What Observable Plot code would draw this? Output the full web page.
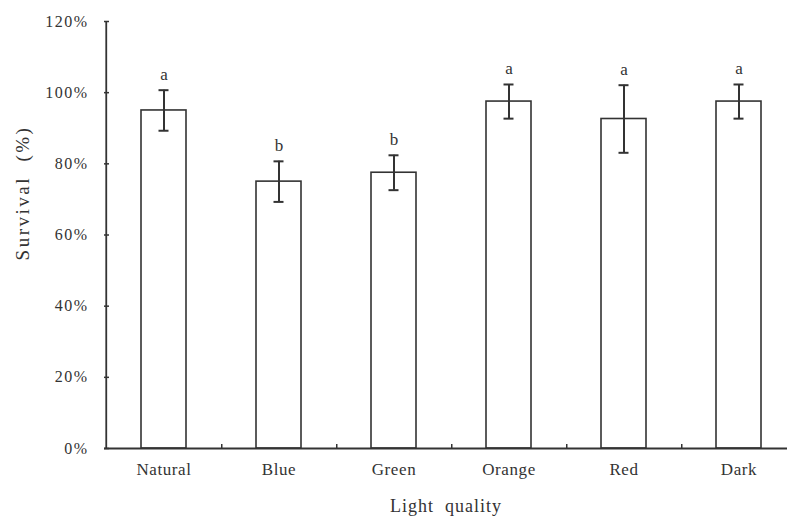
<!DOCTYPE html>
<html>
<head>
<meta charset="utf-8">
<script src="https://cdn.jsdelivr.net/npm/d3@7"></script>
<script src="https://cdn.jsdelivr.net/npm/@observablehq/plot@0.6"></script>
<style>
  html, body { margin: 0; padding: 0; background: #fff; }
  #chart svg { display: block; }
  #chart svg text { font-family: 'Liberation Serif', 'Times New Roman', serif; }
  #chart g[aria-label="y-axis tick label"] text { letter-spacing: 1.5px; }
  #chart g[aria-label="x-axis tick label"] text { letter-spacing: 0.6px; }
  #chart .ylab text { letter-spacing: 2.5px; }
  #chart .xlab text { letter-spacing: 1px; }
</style>
</head>
<body>
<div id="chart"></div>
<script>
const categories = ["Natural", "Blue", "Green", "Orange", "Red", "Dark"];
const survival   = [0.950, 0.750, 0.775, 0.975, 0.926, 0.975];
const stdError   = [0.057, 0.057, 0.049, 0.048, 0.095, 0.048];
const letters    = ["a", "b", "b", "a", "a", "a"];
const yTicks     = [0, 0.2, 0.4, 0.6, 0.8, 1.0, 1.2];

const data = categories.map((c, i) => ({
  category: c,
  value: survival[i],
  lo: survival[i] - stdError[i],
  hi: survival[i] + stdError[i],
  letter: letters[i]
}));

const W = 787, H = 522;
const mL = 104, mR = 0, mT = 21, mB = 74;
const xRange = [104, 797];
const step = (xRange[1] - xRange[0]) / categories.length;
const ink = "#333";
const font = "'Liberation Serif', 'Times New Roman', serif";

const plot = Plot.plot({
  width: W,
  height: H,
  marginLeft: mL,
  marginRight: mR,
  marginTop: mT,
  marginBottom: mB,
  style: { fontFamily: font, color: ink, background: "#fff" },
  x: { domain: categories, range: xRange, paddingInner: 0.61, paddingOuter: 0.305 },
  y: { domain: [0, 1.2] },
  marks: [
    // bars
    Plot.barY(data, { x: "category", y: "value", fill: "#fff", stroke: ink, strokeWidth: 1.6 }),
    // error bars
    Plot.ruleX(data, { x: "category", y1: "lo", y2: "hi", stroke: ink, strokeWidth: 2 }),
    Plot.tickY(data, { x: "category", y: "hi", stroke: ink, strokeWidth: 2, insetLeft: 17.5, insetRight: 17.5 }),
    Plot.tickY(data, { x: "category", y: "lo", stroke: ink, strokeWidth: 2, insetLeft: 17.5, insetRight: 17.5 }),
    // significance letters
    Plot.text(data, { x: "category", y: "hi", text: "letter", dy: -16, fontSize: 17, fill: ink, fontFamily: font }),
    // y axis line
    Plot.ruleX([0], { x: () => categories[0], dx: -(step * 0.305 + step * 0.39 / 2), y1: 0, y2: 1.2, stroke: ink, strokeWidth: 1.8 }),
    // x axis line
    Plot.ruleY([0], { stroke: ink, strokeWidth: 1.8 }),
    // inward y ticks
    Plot.ruleY(yTicks, { stroke: ink, strokeWidth: 1.5, insetRight: W - mL - mR - 5 }),
    // y tick labels
    Plot.axisY({ ticks: yTicks, tickSize: 0, tickPadding: 16, tickFormat: d3.format(".0%"), fontSize: 16, fontFamily: font, label: null }),
    // category separators (inward)
    Plot.ruleX(categories.slice(0, -1), { x: d => d, dx: step / 2, y1: 0, y2: 0.011, stroke: ink, strokeWidth: 1.5 }),
    // x tick labels
    Plot.axisX({ tickSize: 0, tickPadding: 14, fontSize: 17, fontFamily: font, label: null }),
    // axis titles
    Plot.text(["Survival  (%)"], { className: "ylab", frameAnchor: "left", textAnchor: "middle", rotate: -90, dx: -82, dy: -42, fontSize: 19, fill: ink, fontFamily: font }),
    Plot.text(["Light  quality"], { className: "xlab", frameAnchor: "bottom", dy: 63, fontSize: 18, fill: ink, fontFamily: font })
  ]
});

document.getElementById("chart").appendChild(plot);
</script>
</body>
</html>
